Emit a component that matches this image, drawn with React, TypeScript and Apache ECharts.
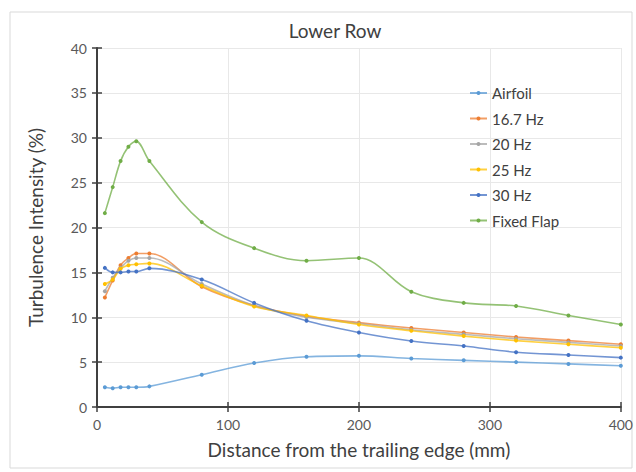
import React, { useEffect, useRef } from "react";
import * as echarts from "echarts";

const distances = [6, 12, 18, 24, 30, 40, 80, 120, 160, 200, 240, 280, 320, 360, 400];
const seriesNames = ["Airfoil", "16.7 Hz", "20 Hz", "25 Hz", "30 Hz", "Fixed Flap"];
const airfoil = [2.2, 2.1, 2.2, 2.2, 2.2, 2.3, 3.6, 4.9, 5.6, 5.7, 5.4, 5.2, 5.0, 4.8, 4.6];
const hz167 = [12.2, 14.1, 15.8, 16.6, 17.1, 17.1, 13.4, 11.3, 10.1, 9.4, 8.8, 8.3, 7.8, 7.4, 7.0];
const hz20 = [12.9, 14.4, 15.5, 16.3, 16.6, 16.6, 13.7, 11.3, 10.0, 9.3, 8.6, 8.1, 7.6, 7.2, 6.8];
const hz25 = [13.7, 14.2, 15.4, 15.8, 15.9, 16.0, 13.5, 11.2, 10.2, 9.2, 8.5, 7.9, 7.4, 7.0, 6.6];
const hz30 = [15.5, 15.0, 15.0, 15.1, 15.1, 15.45, 14.2, 11.6, 9.6, 8.3, 7.35, 6.8, 6.1, 5.8, 5.5];
const fixedFlap = [21.6, 24.5, 27.4, 29.0, 29.6, 27.4, 20.6, 17.7, 16.3, 16.6, 12.85, 11.6, 11.25, 10.2, 9.2];
const colors = ["#5B9BD5", "#ED7D31", "#A5A5A5", "#FFC000", "#4472C4", "#70AD47"];
const xTicks = [0, 100, 200, 300, 400];
const yTicks = [0, 5, 10, 15, 20, 25, 30, 35, 40];

const FONT = "Lato, 'Open Sans', sans-serif";

export default function App() {
  const ref = useRef<HTMLDivElement>(null);
  useEffect(() => {
    if (!ref.current) return;
    const chart = echarts.init(ref.current, undefined, { renderer: "svg" });
    const allData = [airfoil, hz167, hz20, hz25, hz30, fixedFlap];
    const series = allData.map((vals, i) => ({
      name: seriesNames[i],
      type: "line",
      xAxisIndex: 0,
      yAxisIndex: 0,
      data: vals.map((v, j) => [distances[j], v]),
      smooth: 0.35,
      symbol: "circle",
      symbolSize: 4,
      itemStyle: { color: colors[i] },
      lineStyle: { color: colors[i], width: 1.6, opacity: 0.75 },
      z: 3 + i,
    }));
    const axisText = { color: "#595959", fontSize: 14, fontFamily: FONT };
    chart.setOption({
      animation: false,
      backgroundColor: "#ffffff",
      title: {
        text: "Lower Row",
        left: 330,
        top: 16,
        textAlign: "center",
        textStyle: { color: "#404040", fontSize: 19, fontWeight: "normal", fontFamily: FONT },
      },
      graphic: [
        {
          type: "rect",
          shape: { x: 10, y: 12, width: 622, height: 456 },
          style: { fill: "none", stroke: "#d9d9d9", lineWidth: 1 },
          silent: true,
          z: -1,
        },
      ],
      legend: {
        orient: "vertical",
        left: 464,
        top: 80,
        itemWidth: 17,
        itemHeight: 5,
        itemGap: 9.5,
        data: seriesNames,
        textStyle: { color: "#404040", fontSize: 15, fontFamily: FONT, lineHeight: 16 },
      },
      grid: { left: 97, right: 12, top: 48, bottom: 65, containLabel: false },
      xAxis: [
        {
          type: "value",
          min: 0,
          max: 400,
          interval: 100,
          name: "Distance from the trailing edge (mm)",
          nameLocation: "middle",
          nameGap: 33,
          nameTextStyle: { color: "#404040", fontSize: 19, fontFamily: FONT },
          axisLine: { lineStyle: { color: "#404040", width: 2 } },
          axisTick: { show: true, length: 5, lineStyle: { color: "#404040", width: 1.5 } },
          axisLabel: { ...axisText, margin: 10, formatter: (v: number) => (xTicks.includes(v) ? String(v) : "") },
          splitLine: { show: true, lineStyle: { color: "#e8e8e8", width: 1 } },
        },
        {
          type: "value",
          min: 0,
          max: 400,
          interval: 100,
          position: "bottom",
          axisLine: { show: false },
          axisTick: { show: true, inside: true, length: 5, lineStyle: { color: "#404040", width: 1.5 } },
          axisLabel: { show: false },
          splitLine: { show: false },
        },
      ],
      yAxis: [
        {
          type: "value",
          min: 0,
          max: 40,
          interval: 5,
          name: "Turbulence Intensity (%)",
          nameLocation: "middle",
          nameGap: 52,
          nameTextStyle: { color: "#404040", fontSize: 19, fontFamily: FONT },
          axisLine: { show: true, lineStyle: { color: "#404040", width: 2 } },
          axisTick: { show: true, length: 5, lineStyle: { color: "#404040", width: 1.5 } },
          axisLabel: { ...axisText, margin: 10, formatter: (v: number) => (yTicks.includes(v) ? String(v) : "") },
          splitLine: { show: true, lineStyle: { color: "#e8e8e8", width: 1 } },
        },
        {
          type: "value",
          min: 0,
          max: 40,
          interval: 5,
          position: "left",
          axisLine: { show: false },
          axisTick: { show: true, inside: true, length: 5, lineStyle: { color: "#404040", width: 1.5 } },
          axisLabel: { show: false },
          splitLine: { show: false },
        },
      ],
      series,
    });
    return () => chart.dispose();
  }, []);
  return <div ref={ref} style={{ width: 636, height: 472, position: "absolute", left: 0, top: 0 }} />;
}
